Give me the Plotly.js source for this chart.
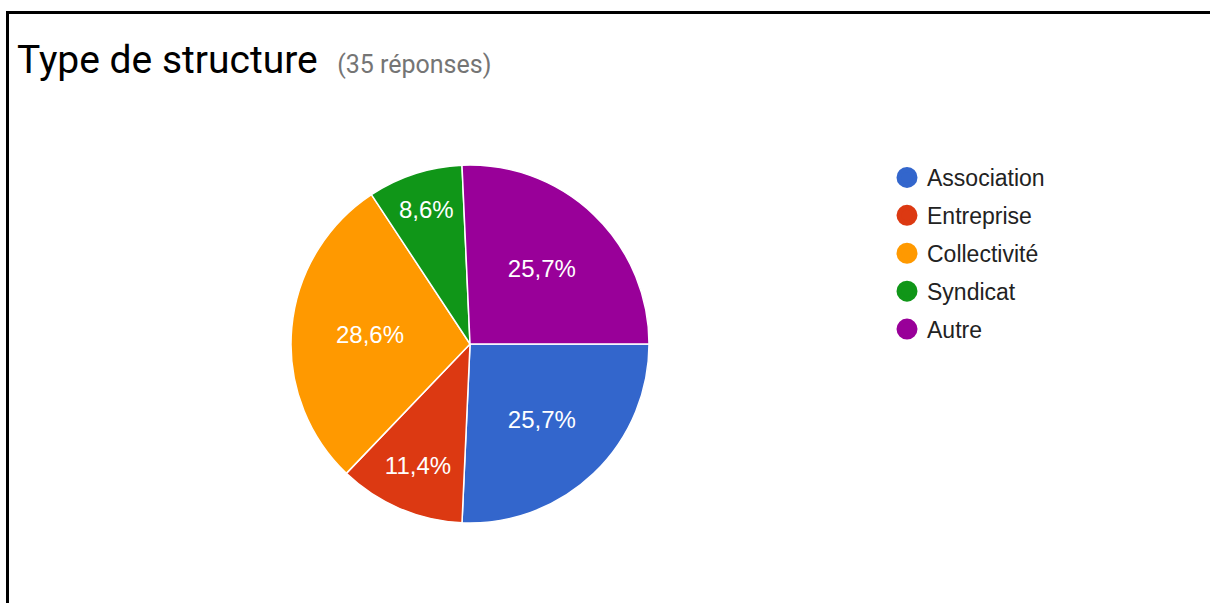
<!DOCTYPE html>
<html>
<head>
<meta charset="utf-8">
<script src="https://cdn.plot.ly/plotly-3.0.1.min.js"></script>
<style>
  html, body { margin: 0; padding: 0; background: #ffffff; }
  #wrap { position: relative; width: 1210px; height: 603px; overflow: hidden; background: #fff; }
  #frame { position: absolute; left: 6px; top: 11px; width: 1210px; height: 600px;
           border-top: 3px solid #000; border-left: 3px solid #000; pointer-events: none; z-index: 5; }
  #chart { position: absolute; left: 0; top: 0; width: 1210px; height: 603px; }
</style>
</head>
<body>
<div id="wrap">
  <div id="chart"></div>
  <div id="frame"></div>
</div>
<script>
// ---- data ----
const categories = ["Association", "Entreprise", "Collectivité", "Syndicat", "Autre"];
const counts = [9, 4, 10, 3, 9];
const colors = ["#3366cc", "#dc3912", "#ff9900", "#109618", "#990099"];
const titleText = "Type de structure";
const responsesText = "(35 réponses)";

const pieTrace = {
  type: "pie",
  labels: categories,
  values: counts,
  sort: false,
  direction: "clockwise",
  rotation: 90,
  marker: { colors: colors, line: { color: "#ffffff", width: 1.5 } },
  texttemplate: "%{percent:.1%}",
  textposition: "inside",
  insidetextorientation: "horizontal",
  insidetextfont: { family: "Liberation Sans, Arial, sans-serif", size: 24, color: "#ffffff" },
  hoverinfo: "skip",
  showlegend: false,
  domain: { x: [0.2405, 0.5364], y: [0.1327, 0.7264] }
};

// legend entries with circular symbols
const legendTraces = categories.map((c, i) => ({
  type: "scatter",
  mode: "markers",
  x: [null], y: [null],
  name: c,
  legendgroup: "g" + i,
  marker: { color: colors[i], size: 16, symbol: "circle", line: { color: colors[i], width: 5 } },
  hoverinfo: "skip",
  showlegend: true
}));

const layout = {
  width: 1210,
  height: 603,
  margin: { l: 0, r: 0, t: 0, b: 0 },
  paper_bgcolor: "#ffffff",
  plot_bgcolor: "#ffffff",
  separators: ", ",
  showlegend: true,
  xaxis: { visible: false, domain: [0.99, 1] },
  yaxis: { visible: false, domain: [0.99, 1] },
  title: {
    text: titleText + "  <span style='font-size:25px;color:#757575'>" + responsesText + "</span>",
    font: { family: "Roboto, sans-serif", size: 39, color: "#000000" },
    xref: "paper", x: 17 / 1210, xanchor: "left",
    yref: "container", y: 1 - 59 / 603, yanchor: "middle"
  },
  legend: {
    x: 887 / 1210, xanchor: "left",
    y: 1 - 156 / 603, yanchor: "top",
    font: { family: "Liberation Sans, Arial, sans-serif", size: 23, color: "#222222" },
    tracegroupgap: 5,
    itemsizing: "trace",
    bgcolor: "rgba(0,0,0,0)"
  }
};

Plotly.newPlot("chart", [pieTrace].concat(legendTraces), layout, { displayModeBar: false, staticPlot: true });
</script>
</body>
</html>
